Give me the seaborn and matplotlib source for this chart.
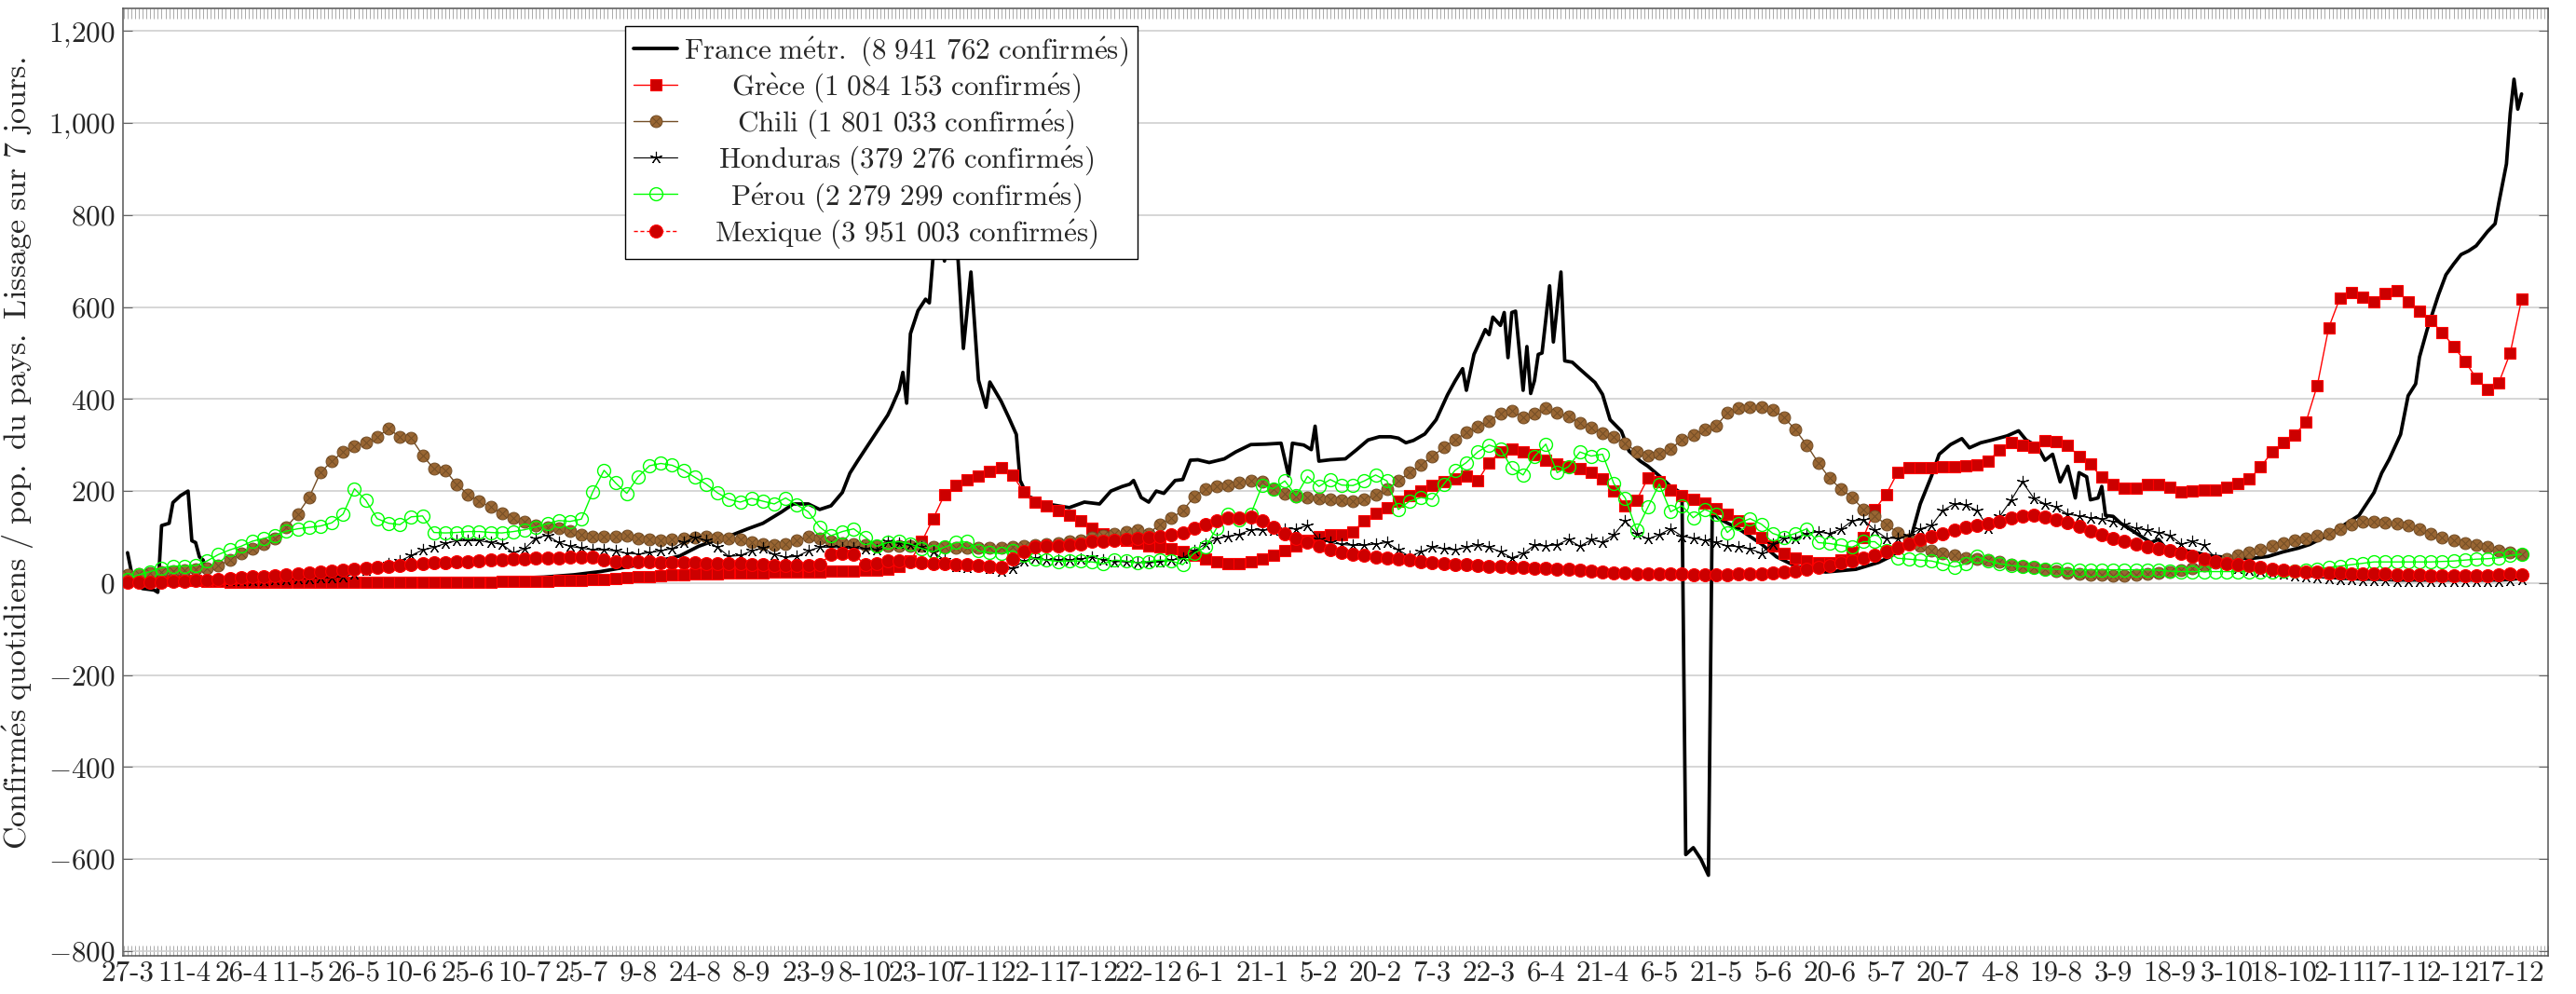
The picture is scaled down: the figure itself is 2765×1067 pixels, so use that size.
# Cas confirmés quotidiens rapportés à la population du pays, lissage sur 7 jours
import matplotlib
matplotlib.use("Agg")
import matplotlib.pyplot as plt
import matplotlib.dates as mdates
import numpy as np
import pandas as pd
import seaborn as sns
from matplotlib.path import Path
from matplotlib.ticker import FuncFormatter

# ---- données : un point tous les 3 jours à partir du 27-3-2020
debut = pd.Timestamp("2020-03-27")
jours = np.arange(0, 634, 3)

grece = [7, 8, 8, 7, 6, 6, 5, 4, 3, 2, 2, 2, 1, 1, 1, 1, 1, 1, 1, 1,
         1, 2, 2, 2, 2, 2, 2, 2, 2, 2, 2, 2, 2, 3, 3, 3, 3, 4, 5, 5,
         6, 7, 8, 10, 11, 13, 15, 17, 18, 19, 20, 20, 21, 22, 23, 23, 23, 24, 24, 24,
         24, 25, 26, 26, 27, 28, 29, 31, 36, 48, 90, 140, 192, 212, 224, 232, 243, 250, 234, 198,
         176, 168, 158, 148, 135, 120, 108, 98, 92, 86, 81, 78, 74, 68, 60, 53, 47, 42, 42, 46,
         52, 61, 70, 80, 93, 102, 105, 105, 112, 135, 152, 163, 178, 190, 200, 212, 220, 227, 233, 222,
         262, 285, 291, 285, 279, 268, 258, 252, 248, 241, 226, 201, 168, 180, 228, 220, 202, 190, 183, 174,
         162, 150, 136, 120, 100, 80, 64, 54, 48, 45, 45, 50, 66, 100, 160, 193, 240, 250, 250, 251,
         252, 253, 255, 257, 265, 290, 305, 300, 296, 310, 308, 300, 275, 258, 230, 215, 206, 206, 214, 215,
         208, 198, 200, 202, 202, 208, 216, 226, 252, 285, 305, 322, 350, 430, 555, 620, 632, 622, 612, 630,
         636, 612, 590, 570, 545, 515, 482, 446, 420, 436, 500, 617]

chili = [18, 20, 23, 25, 27, 28, 30, 33, 38, 50, 65, 75, 84, 98, 122, 150, 186, 240, 265, 285,
         297, 305, 318, 335, 318, 315, 278, 248, 245, 215, 193, 178, 165, 152, 142, 133, 126, 122, 119, 113,
         106, 102, 101, 102, 104, 98, 95, 92, 94, 97, 100, 101, 99, 97, 94, 88, 84, 82, 84, 92,
         102, 96, 90, 87, 85, 82, 81, 81, 81, 81, 80, 79, 78, 77, 76, 76, 76, 77, 78, 80,
         82, 84, 87, 90, 93, 99, 104, 107, 112, 116, 108, 128, 142, 157, 188, 205, 210, 212, 218, 223,
         220, 205, 194, 189, 186, 184, 182, 179, 177, 182, 192, 204, 222, 240, 257, 275, 295, 312, 327, 340,
         353, 368, 375, 360, 368, 380, 370, 362, 348, 338, 326, 318, 304, 285, 277, 281, 292, 311, 322, 333,
         341, 370, 381, 382, 382, 377, 360, 333, 300, 262, 228, 205, 186, 160, 145, 128, 110, 94, 80, 70,
         64, 60, 55, 52, 50, 47, 40, 37, 34, 30, 26, 22, 20, 19, 18, 17, 17, 18, 20, 22,
         24, 28, 33, 39, 45, 52, 60, 67, 73, 80, 86, 92, 98, 103, 108, 118, 128, 134, 134, 131,
         129, 125, 118, 108, 100, 92, 86, 82, 78, 71, 66, 63]

honduras = [1, 2, 2, 3, 3, 3, 4, 4, 5, 5, 5, 6, 6, 7, 8, 9, 10, 11, 12, 14,
            20, 28, 35, 42, 48, 60, 72, 78, 86, 92, 92, 92, 88, 84, 66, 75, 98, 104, 88, 80,
            76, 72, 72, 70, 65, 63, 66, 70, 75, 88, 100, 92, 78, 58, 60, 70, 76, 62, 56, 58,
            70, 78, 78, 76, 76, 74, 72, 90, 86, 82, 78, 68, 50, 36, 34, 37, 32, 26, 32, 48,
            54, 50, 50, 50, 52, 56, 50, 47, 46, 45, 44, 46, 50, 54, 70, 85, 96, 102, 106, 116,
            115, 116, 118, 118, 125, 95, 88, 84, 82, 82, 85, 88, 72, 58, 68, 78, 75, 72, 78, 82,
            78, 68, 55, 64, 82, 81, 83, 95, 80, 94, 89, 105, 135, 108, 96, 105, 118, 102, 98, 93,
            88, 81, 79, 74, 65, 85, 97, 98, 108, 111, 108, 117, 135, 138, 115, 98, 97, 104, 118, 125,
            158, 172, 170, 158, 120, 145, 180, 220, 185, 172, 165, 150, 146, 142, 139, 134, 128, 119, 115, 110,
            104, 85, 90, 82, 55, 42, 33, 29, 26, 22, 20, 17, 14, 12, 10, 8, 7, 6, 6, 5,
            4, 4, 4, 4, 4, 4, 4, 4, 4, 4, 5, 8]

perou = [8, 18, 25, 33, 37, 37, 38, 48, 62, 72, 80, 91, 97, 104, 113, 118, 121, 124, 131, 150,
         205, 180, 140, 130, 127, 144, 146, 110, 109, 110, 112, 112, 110, 109, 112, 116, 122, 129, 136, 134,
         139, 198, 245, 218, 195, 231, 255, 260, 256, 245, 230, 215, 196, 182, 176, 184, 178, 172, 185, 170,
         155, 122, 103, 112, 118, 100, 80, 88, 90, 85, 75, 68, 78, 88, 90, 70, 66, 64, 70, 60,
         53, 50, 47, 48, 48, 46, 42, 50, 48, 44, 47, 50, 48, 40, 65, 78, 120, 150, 138, 150,
         212, 205, 222, 190, 232, 210, 225, 213, 212, 222, 235, 222, 160, 178, 186, 182, 215, 245, 262, 285,
         300, 292, 250, 235, 275, 302, 240, 253, 285, 276, 280, 216, 185, 115, 165, 215, 155, 168, 142, 160,
         150, 110, 130, 140, 128, 108, 100, 108, 118, 88, 86, 82, 78, 90, 90, 70, 54, 52, 50, 48,
         42, 35, 42, 58, 48, 42, 38, 36, 34, 31, 30, 30, 29, 29, 29, 29, 29, 29, 29, 28,
         26, 25, 25, 25, 25, 25, 25, 25, 25, 25, 26, 27, 28, 31, 34, 37, 40, 43, 46, 46,
         46, 46, 46, 46, 47, 48, 50, 52, 53, 55, 60, 63]

mexique = [1, 1, 2, 2, 3, 4, 5, 6, 8, 9, 11, 13, 15, 17, 19, 21, 23, 25, 27, 29,
           31, 33, 34, 36, 38, 40, 42, 44, 45, 46, 47, 48, 50, 51, 52, 53, 54, 55, 55, 56,
           57, 57, 50, 46, 46, 46, 46, 45, 45, 44, 44, 43, 43, 42, 42, 41, 40, 39, 38, 38,
           38, 40, 63, 64, 63, 40, 42, 48, 48, 46, 45, 43, 42, 41, 40, 38, 36, 34, 52, 68,
           78, 80, 80, 82, 85, 90, 91, 92, 94, 96, 99, 102, 105, 110, 120, 128, 136, 141, 142, 143,
           136, 122, 108, 97, 88, 80, 73, 67, 63, 60, 56, 54, 52, 50, 47, 45, 43, 41, 40, 39,
           37, 36, 35, 34, 33, 32, 31, 30, 28, 26, 24, 23, 22, 21, 21, 20, 20, 20, 19, 19,
           19, 19, 20, 20, 21, 22, 24, 27, 30, 34, 39, 44, 49, 54, 60, 68, 76, 85, 94, 101,
           108, 116, 121, 126, 130, 134, 141, 146, 148, 143, 138, 132, 124, 114, 106, 98, 90, 85, 79, 74,
           71, 65, 58, 52, 46, 43, 40, 38, 35, 31, 28, 27, 25, 24, 23, 22, 21, 21, 20, 20,
           19, 19, 18, 17, 17, 17, 17, 17, 17, 19, 20, 19]

# France : courbe sans marqueurs, relevée plus finement là où elle bouge vite (jour, valeur)
france_points = [
    (0, 66), (1, 25), (2, -5), (4, -12), (7, -15), (8, -20), (9, 125), (11, 130), (12, 175),
    (14, 190), (16, 200), (17, 92), (18, 88), (19, 57), (20, 50), (21, 12), (24, 10), (30, 14),
    (40, 10), (50, 7), (60, 5), (70, 5), (80, 6), (90, 8), (100, 10), (110, 13), (118, 18),
    (125, 25), (132, 35), (139, 45), (146, 59), (151, 80), (156, 95), (160, 105), (164, 118),
    (168, 130), (173, 155), (176, 172), (180, 172), (183, 160), (186, 168), (189, 197), (191, 239),
    (193, 265), (195, 290), (197, 315), (199, 340), (201, 365), (202, 382), (204, 420), (205, 458),
    (206, 391), (207, 542), (209, 592), (211, 617), (212, 609), (213, 710), (215, 760), (216, 700),
    (217, 790), (218, 730), (219, 780), (220, 650), (221, 510), (223, 676), (225, 441), (227, 382),
    (228, 437), (231, 395), (233, 360), (235, 323), (236, 223), (238, 189), (243, 172), (249, 164),
    (253, 176), (257, 172), (260, 200), (263, 210), (265, 215), (266, 223), (268, 186), (270, 176),
    (272, 200), (274, 195), (277, 223), (279, 225), (281, 267), (283, 268), (286, 262), (290, 270),
    (293, 285), (297, 301), (301, 302), (305, 304), (307, 233), (308, 304), (311, 300), (313, 290),
    (314, 341), (315, 265), (318, 268), (322, 270), (325, 290), (328, 311), (331, 318), (334, 318),
    (336, 315), (338, 305), (340, 310), (343, 324), (346, 355), (349, 409), (351, 439), (353, 466),
    (354, 419), (356, 497), (359, 551), (360, 540), (361, 578), (363, 560), (364, 588), (365, 490),
    (366, 588), (367, 591), (369, 419), (370, 514), (371, 412), (372, 440), (373, 497), (374, 500),
    (376, 646), (377, 524), (379, 676), (380, 483), (382, 480), (384, 465), (388, 436), (390, 410),
    (392, 355), (395, 330), (397, 287), (400, 265), (402, 254), (405, 233), (408, 210), (411, 195),
    (412, -590), (414, -575), (416, -600), (418, -635), (419, 152), (421, 139), (426, 118),
    (432, 85), (436, 57), (441, 37), (449, 24), (457, 30), (463, 45), (466, 57), (471, 85),
    (472, 112), (474, 172), (477, 233), (479, 280), (482, 301), (485, 314), (487, 294), (490, 305),
    (493, 311), (497, 320), (500, 331), (502, 311), (505, 297), (507, 267), (509, 280), (511, 220),
    (513, 254), (515, 185), (516, 240), (518, 231), (519, 181), (521, 185), (522, 210), (523, 147),
    (525, 145), (527, 130), (531, 109), (535, 88), (537, 95), (539, 75), (544, 71), (551, 59),
    (556, 55), (561, 53), (566, 58), (570, 68), (574, 76), (577, 84), (582, 105), (586, 126),
    (590, 147), (594, 197), (596, 239), (598, 269), (601, 323), (603, 407), (605, 433), (606, 491),
    (608, 550), (611, 626), (613, 670), (615, 693), (617, 714), (619, 722), (621, 733), (624, 764),
    (626, 781), (627, 827), (629, 911), (630, 1021), (631, 1095), (632, 1030), (633, 1063),
]

etiquettes = ["France métr. (8 941 762 confirmés)",
              "Grèce (1 084 153 confirmés)",
              "Chili (1 801 033 confirmés)",
              "Honduras (379 276 confirmés)",
              "Pérou (2 279 299 confirmés)",
              "Mexique (3 951 003 confirmés)"]

ticks_x = pd.date_range("2020-03-27", "2021-12-17", freq="15D")


def en_tex(s):
    """texte en Computer Modern via mathtext (les accents passent par \\acute / \\grave)"""
    s = s.replace(" ", r"\ ").replace("é", r"\acute{e}").replace("è", r"\grave{e}")
    return r"$\mathrm{" + s + "}$"


def fmt_y(v, pos):
    return "$" + f"{v:,.0f}".replace(",", "{,}") + "$"


# marqueur cercle barré (otimes) pour le Chili
cercle = Path.unit_circle()
r = 0.7071
otimes = Path(list(cercle.vertices) + [(-r, -r), (r, r), (-r, r), (r, -r)],
              list(cercle.codes) + [Path.MOVETO, Path.LINETO, Path.MOVETO, Path.LINETO])

if __name__ == '__main__':
    sns.set_theme(style="whitegrid", rc={"grid.color": "#cfcfcf", "grid.linewidth": 1.2,
                                         "axes.edgecolor": "#555555", "axes.linewidth": 1.1})
    plt.rcParams["font.family"] = ["cmr10", "DejaVu Serif"]
    plt.rcParams["mathtext.fontset"] = "cm"
    taille = 22.4

    dates = debut + pd.to_timedelta(jours, unit="D")
    fr_j, fr_v = zip(*france_points)
    fr_dates = debut + pd.to_timedelta(list(fr_j), unit="D")

    fig = plt.figure(figsize=(27.65, 10.67), dpi=100)
    ax = fig.add_axes([0.04774, 0.03843, 0.94141, 0.95314])

    sns.lineplot(x=fr_dates, y=list(fr_v), ax=ax, color="black", linewidth=2.7, sort=False,
                 label=en_tex(etiquettes[0]), zorder=3)
    sns.lineplot(x=dates, y=grece, ax=ax, color="red", linewidth=1.0, marker="s", markersize=8.7,
                 markerfacecolor="#cc0000", markeredgecolor="red", markeredgewidth=0.8, sort=False,
                 label=en_tex(etiquettes[1]), zorder=4)
    sns.lineplot(x=dates, y=chili, ax=ax, color="#734d26", linewidth=1.0, marker=otimes, markersize=9.3,
                 markerfacecolor="#996633", markeredgecolor="#734d26", markeredgewidth=0.7, sort=False,
                 label=en_tex(etiquettes[2]), zorder=5)
    sns.lineplot(x=dates, y=honduras, ax=ax, color="black", linewidth=0.8, marker=(5, 2, 0), markersize=9.5,
                 markeredgecolor="black", markeredgewidth=0.8, sort=False,
                 label=en_tex(etiquettes[3]), zorder=6)
    sns.lineplot(x=dates, y=perou, ax=ax, color="#00ff00", linewidth=1.0, marker="o", markersize=10,
                 markerfacecolor="none", markeredgecolor="#00ff00", markeredgewidth=1.0, sort=False,
                 label=en_tex(etiquettes[4]), zorder=7)
    sns.lineplot(x=dates, y=mexique, ax=ax, color="red", linewidth=1.0, linestyle=(0, (3, 2)),
                 marker="o", markersize=10, markerfacecolor="#cc0000", markeredgecolor="red",
                 markeredgewidth=0.8, sort=False, label=en_tex(etiquettes[5]), zorder=8)

    # axes
    ax.set_xlim(debut - pd.Timedelta(hours=29), debut + pd.Timedelta(days=640))
    ax.set_ylim(-810, 1249)
    ax.set_yticks(np.arange(-800, 1201, 200))
    ax.yaxis.set_major_formatter(FuncFormatter(fmt_y))
    ax.set_xticks(ticks_x)
    ax.set_xticklabels([f"{t.day}-{t.month}" for t in ticks_x])
    ax.xaxis.set_minor_locator(mdates.DayLocator())
    ax.grid(False, axis="x")
    ax.grid(True, axis="y")
    ax.set_axisbelow(True)
    ax.tick_params(axis="x", which="both", direction="in", top=True, bottom=True, length=8,
                   width=0.5, color="#888888", labelsize=taille, pad=4)
    ax.tick_params(axis="y", which="major", direction="in", left=True, right=True, length=7,
                   width=0.8, color="#666666", labelsize=taille, pad=6)
    for lab in ax.get_xticklabels():
        lab.set_family("cmr10")
    for sp in ax.spines.values():
        sp.set_visible(True)

    ax.set_xlabel("")
    ax.set_ylabel(en_tex("Confirmés quotidiens / pop. du pays. Lissage sur 7 jours."), fontsize=24.5)
    ax.yaxis.set_label_coords(-0.036, 0.53)

    # légende, textes centrés comme dans pgfplots
    leg = ax.legend(loc="upper left", bbox_to_anchor=(0.2071, 0.9813), fontsize=taille,
                    frameon=True, fancybox=False, framealpha=1, edgecolor="black",
                    handlelength=1.5, handletextpad=0.23, borderpad=0.3, labelspacing=0.12,
                    borderaxespad=0, numpoints=1)
    leg.get_frame().set_linewidth(1.0)
    fig.canvas.draw()
    rend = fig.canvas.get_renderer()
    larg = [t.get_window_extent(rend).width * 72 / fig.dpi for t in leg.get_texts()]
    lignes = leg._legend_handle_box.get_children()[0].get_children()
    for ligne, w in zip(lignes, larg):
        ligne.sep += (max(larg) - w) / 2

    fig.savefig("out.png", dpi=100)
